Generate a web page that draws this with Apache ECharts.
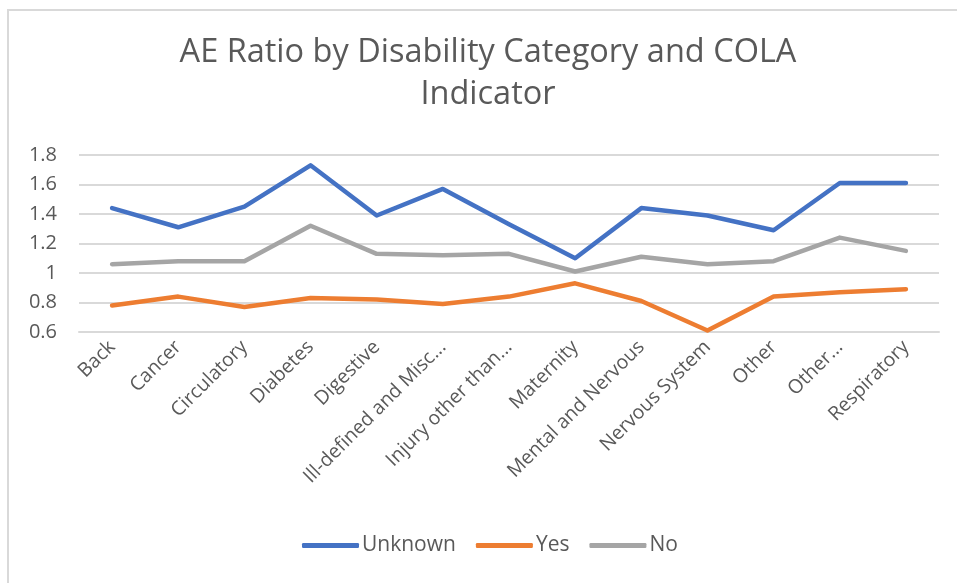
<!DOCTYPE html>
<html>
<head>
<meta charset="utf-8">
<script src="https://cdn.jsdelivr.net/npm/echarts@6/dist/echarts.min.js"></script>
<style>
html,body{margin:0;padding:0;background:#fff;}
#chart{width:957px;height:583px;}
</style>
</head>
<body>
<div id="chart"></div>
<script>
const titleText = 'AE Ratio by Disability Category and COLA\nIndicator';
const categories = ['Back','Cancer','Circulatory','Diabetes','Digestive','Ill-defined and Misc...','Injury other than...','Maternity','Mental and Nervous','Nervous System','Other','Other...','Respiratory'];
const seriesNames = ['Unknown','Yes','No'];
const unknownValues = [1.44,1.31,1.45,1.73,1.39,1.57,1.33,1.10,1.44,1.39,1.29,1.61,1.61];
const yesValues = [0.78,0.84,0.77,0.83,0.82,0.79,0.84,0.93,0.81,0.61,0.84,0.87,0.89];
const noValues = [1.06,1.08,1.08,1.32,1.13,1.12,1.13,1.01,1.11,1.06,1.08,1.24,1.15];
const yTicks = {min:0.6, max:1.8, interval:0.2};
const colors = ['#4472C4','#ED7D31','#A5A5A5'];

const chart = echarts.init(document.getElementById('chart'), null, {renderer:'canvas'});
const font = '"Open Sans", "Liberation Sans", sans-serif';
const mk = (name, data, color) => ({
  name, type:'line', data, symbol:'none', smooth:false,
  lineStyle:{width:4.5, color, cap:'round', join:'round'},
  itemStyle:{color}
});
chart.setOption({
  animation:false,
  backgroundColor:'#fff',
  textStyle:{fontFamily:font},
  title:{
    text:titleText, left:483, top:27, textAlign:'center',
    textStyle:{fontFamily:font, fontSize:32.5, fontWeight:'normal', color:'#595959', lineHeight:42}
  },
  graphic:[
    {type:'line', shape:{x1:7,y1:10,x2:957,y2:10}, style:{stroke:'#d9d9d9', lineWidth:2}},
    {type:'line', shape:{x1:8,y1:9,x2:8,y2:583}, style:{stroke:'#d9d9d9', lineWidth:2}}
  ],
  legend:{
    data:seriesNames, bottom:22, left:297, itemWidth:57, itemHeight:5, itemGap:20,
    icon:'roundRect',
    textStyle:{fontFamily:font, fontSize:21, color:'#595959', padding:[0,0,0,-2]}
  },
  grid:{left:79, right:18, top:155, bottom:251, containLabel:false},
  xAxis:{
    type:'category', data:categories, boundaryGap:true,
    axisLine:{show:true, lineStyle:{color:'#d9d9d9', width:2}},
    axisTick:{show:false},
    axisLabel:{rotate:45, interval:0, margin:12, fontFamily:font, fontSize:19.5, color:'#595959'}
  },
  yAxis:{
    type:'value', min:yTicks.min, max:yTicks.max, interval:yTicks.interval,
    axisLine:{show:false}, axisTick:{show:false},
    axisLabel:{margin:22, fontFamily:font, fontSize:20, color:'#595959',
      formatter:v=>String(parseFloat(v.toFixed(1)))},
    splitLine:{lineStyle:{color:'#d9d9d9', width:2}}
  },
  series:[mk(seriesNames[0], unknownValues, colors[0]), mk(seriesNames[1], yesValues, colors[1]), mk(seriesNames[2], noValues, colors[2])]
});
</script>
</body>
</html>
